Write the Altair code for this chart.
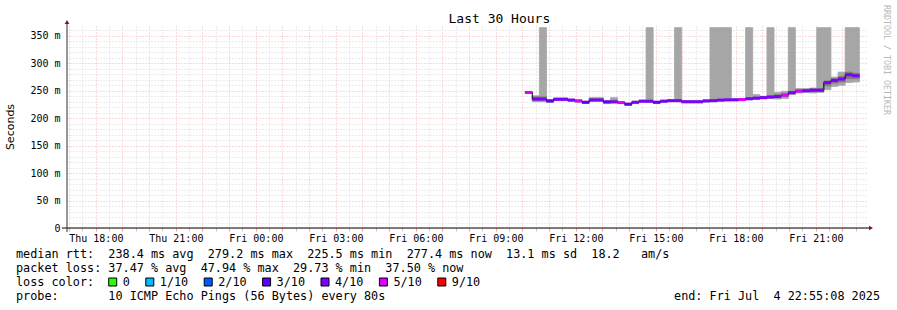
import json
import altair as alt
import pandas as pd

# ---------------- data ----------------
# hours since Thu 00:00; chart covers Thu 16:55:08 .. Fri 22:55:08
x_start_h = 16.919
x_end_h = 46.919
first_step_h = 34.10          # Fri 10:06
step_h = 16 / 60.0            # consolidated RRD step (16 min)

median_ms = [247.0, 235.0, 235.0, 231.5, 234.5, 234.5, 233.0, 231.5, 229.0, 233.0,
             233.0, 229.7, 229.7, 228.5, 225.5, 229.0, 231.0, 231.0, 229.0, 231.0,
             232.0, 232.0, 230.0, 230.0, 230.0, 231.5, 232.0, 233.0, 233.5, 233.5,
             234.0, 235.5, 236.5, 237.5, 238.5, 239.5, 242.0, 246.5, 249.5, 250.0,
             251.0, 251.0, 265.0, 269.0, 271.5, 279.2, 277.4]

loss_bin = ["5/10", "4/10", "4/10", "3/10", "4/10", "4/10", "4/10", "5/10", "3/10", "4/10",
            "4/10", "3/10", "4/10", "5/10", "3/10", "4/10", "4/10", "4/10", "3/10", "4/10",
            "4/10", "4/10", "4/10", "4/10", "4/10", "4/10", "4/10", "4/10", "4/10", "4/10",
            "5/10", "4/10", "4/10", "4/10", "4/10", "4/10", "5/10", "4/10", "5/10", "4/10",
            "4/10", "4/10", "4/10", "4/10", "4/10", "4/10", "4/10"]

smoke_lo = [245.0, 230.0, 230.0, 228.5, 232.0, 232.0, 231.0, 229.0, 227.0, 231.0,
            231.0, 226.5, 228.0, 227.0, 223.5, 227.0, 229.0, 229.0, 227.0, 229.0,
            230.0, 230.0, 228.0, 228.0, 228.0, 229.5, 230.0, 231.0, 231.5, 232.0,
            232.0, 233.5, 234.5, 235.5, 236.0, 235.0, 236.0, 243.0, 246.0, 247.0,
            246.0, 247.0, 252.0, 258.0, 260.0, 265.0, 266.0]
smoke_hi = [248.5, 241.0, 365.0, 234.0, 237.0, 237.0, 235.0, 233.5, 231.0, 237.5,
            237.5, 232.0, 237.5, 230.5, 227.5, 231.0, 233.0, 365.0, 231.0, 233.0,
            234.0, 365.0, 232.0, 232.0, 232.0, 233.5, 365.0, 365.0, 365.0, 236.0,
            236.0, 365.0, 243.0, 240.0, 365.0, 247.0, 249.0, 365.0, 254.0, 254.0,
            255.0, 365.0, 365.0, 275.0, 284.0, 365.0, 365.0]
inner_lo = [245.5, 232.0, 232.0, 230.0, 233.0, 233.0, 232.0, 230.0, 228.0, 232.0,
            232.0, 228.0, 229.0, 227.5, 224.5, 228.0, 230.0, 230.0, 228.0, 230.0,
            231.0, 231.0, 229.0, 229.0, 229.0, 230.5, 231.0, 232.0, 232.5, 232.5,
            233.0, 234.5, 235.5, 236.5, 237.0, 237.5, 239.5, 244.5, 247.5, 248.0,
            248.5, 248.5, 259.0, 264.0, 266.0, 272.0, 272.0]
inner_hi = [248.0, 239.0, 239.0, 233.0, 236.0, 236.0, 234.0, 233.0, 230.0, 236.0,
            236.0, 231.0, 233.0, 229.5, 226.5, 230.0, 232.0, 232.0, 230.0, 232.0,
            233.0, 233.0, 231.0, 231.0, 231.0, 232.5, 233.0, 234.0, 234.5, 234.5,
            235.0, 237.0, 238.5, 239.0, 241.0, 243.0, 245.0, 249.0, 252.0, 252.0,
            253.5, 254.0, 268.0, 272.0, 276.0, 284.0, 282.0]

loss_labels = ["0", "1/10", "2/10", "3/10", "4/10", "5/10", "9/10"]
loss_colors = ["#26ff00", "#00b8ff", "#0059ff", "#5e00ff", "#7e00ff", "#dd00ff", "#ff0000"]

x_tick_labels = ["Thu 18:00", "Thu 21:00", "Fri 00:00", "Fri 03:00", "Fri 06:00",
                 "Fri 09:00", "Fri 12:00", "Fri 15:00", "Fri 18:00", "Fri 21:00"]

title_text = "Last 30 Hours"
y_title = "Seconds"
legend_rtt = "median rtt:  238.4 ms avg  279.2 ms max  225.5 ms min  277.4 ms now  13.1 ms sd  18.2   am/s"
legend_loss = "packet loss: 37.47 % avg  47.94 % max  29.73 % min  37.50 % now"
legend_color = "loss color:"
legend_probe = "probe:       10 ICMP Echo Pings (56 Bytes) every 80s"
legend_end = "end: Fri Jul  4 22:55:08 2025"
watermark = "RRDTOOL / TOBI OETIKER"

# ---------------- tables ----------------
n = len(median_ms)
t0 = [first_step_h + i * step_h for i in range(n)]
t1 = [t + step_h for t in t0]
steps = pd.DataFrame({"t0": t0, "t1": t1, "median": median_ms, "loss": loss_bin,
                      "lo": smoke_lo, "hi": smoke_hi, "ilo": inner_lo, "ihi": inner_hi})
line_df = pd.DataFrame({"t": t0 + [t1[-1]], "median": median_ms + [median_ms[-1]]})

W, H = 800, 202
MONO = "DejaVu Sans Mono"
NB = "\u00a0"

def nb(s):
    return s.replace(" ", NB)

x_vals = [17 + 0.5 * k for k in range(60)]
y_vals = [10 * k for k in range(37)]

x_axis = alt.Axis(
    values=x_vals, grid=True, domain=False, ticks=True, tickSize=3,
    tickColor={"condition": {"test": "datum.value % 1 == 0", "value": "#f2a0a0"}, "value": "#c8c8c8"},
    gridColor={"condition": {"test": "datum.value % 1 == 0", "value": "#f7b4b4"}, "value": "#d8d8d8"},
    gridDash={"condition": {"test": "datum.value % 1 == 0", "value": [1, 2]}, "value": [1, 2]},
    gridWidth=1,
    labelExpr="datum.value % 3 == 0 ? " + json.dumps(x_tick_labels) + "[round((datum.value - 18) / 3)] : ''",
    labelFont=MONO, labelFontSize=10, labelColor="#000000", labelBaseline="top",
    labelPadding=2, labelOverlap=False, labelFlush=False, labelBound=False, title=None,
)
y_axis = alt.Axis(
    values=y_vals, grid=True, domain=False, ticks=False,
    gridColor={"condition": {"test": "datum.value % 50 == 0", "value": "#f7b4b4"}, "value": "#d8d8d8"},
    gridDash={"condition": {"test": "datum.value % 50 == 0", "value": [1, 2]}, "value": [1, 2]},
    gridWidth=1,
    labelExpr="datum.value % 50 == 0 ? (datum.value == 0 ? '0" + NB + NB + "' : datum.value + '" + NB + "m') : ''",
    labelFont=MONO, labelFontSize=10, labelColor="#000000", labelPadding=7,
    labelOverlap=False, labelFlush=False, labelBound=False, title=None,
)
xs = alt.Scale(domain=[x_start_h, x_end_h], nice=False, zero=False)
ys = alt.Scale(domain=[0, 368], nice=False)

def X(f):
    return alt.X(f"{f}:Q", scale=xs, axis=x_axis)

def Y(f):
    return alt.Y(f"{f}:Q", scale=ys, axis=y_axis)

base = alt.Chart(steps)
outer = base.mark_rect(color="#a6a6a6", stroke="#a6a6a6", strokeWidth=0.8).encode(
    x=X("t0"), x2="t1", y=Y("lo"), y2="hi")
inner = base.mark_rect(color="#7a7a7a", stroke="#7a7a7a", strokeWidth=0.6).encode(
    x=X("t0"), x2="t1", y=Y("ilo"), y2="ihi")
blk = alt.Chart(line_df).mark_line(interpolate="step-after", color="#000000", strokeWidth=1).encode(
    x=alt.X("t:Q", scale=xs, axis=x_axis), y=alt.Y("median:Q", scale=ys, axis=y_axis))
segs = base.mark_rule(strokeWidth=3).encode(
    x=X("t0"), x2="t1", y=Y("median"),
    color=alt.Color("loss:N", scale=alt.Scale(domain=loss_labels, range=loss_colors), legend=None))

one = pd.DataFrame({"k": [0]})
deco = []
deco.append(alt.Chart(one).mark_rule(color="#000000", strokeWidth=1).encode(
    x=alt.value(-5), x2=alt.value(803), y=alt.value(H)))
deco.append(alt.Chart(one).mark_rule(color="#333333", strokeWidth=1).encode(
    x=alt.value(0), y=alt.value(-3), y2=alt.value(H + 4)))
deco.append(alt.Chart(one).mark_point(shape="triangle-right", filled=True, color="#8b1010", size=22, opacity=1).encode(
    x=alt.value(804), y=alt.value(H)))
deco.append(alt.Chart(one).mark_point(shape="triangle-up", filled=True, color="#8b1010", size=22, opacity=1).encode(
    x=alt.value(0), y=alt.value(-4)))

def txt(s, x, y, size, font=MONO, align="left", angle=0, color="#000000"):
    return alt.Chart(one).mark_text(text=nb(s), font=font, fontSize=size, align=align,
                                    baseline="middle", angle=angle, color=color).encode(
        x=alt.value(x), y=alt.value(y))

deco.append(txt(title_text, 381.5, -7, 13))
deco.append(txt(y_title, -56, 101, 11, font="DejaVu Sans", align="center", angle=270))
deco.append(txt(watermark, 819, 34, 8.3, align="center", angle=90, color="#b8b8b8"))

LX = -51
LSZ = 11.8
deco.append(txt(legend_rtt, LX, 228, LSZ))
deco.append(txt(legend_loss, LX, 242, LSZ))
deco.append(txt(legend_color, LX, 256, LSZ))
deco.append(txt(legend_probe, LX, 270, LSZ))
deco.append(txt(legend_end, 813, 270, LSZ, align="right"))

# loss-colour legend boxes
left = 108.7 - 67
for lab, col in zip(loss_labels, loss_colors):
    deco.append(alt.Chart(one).mark_rect(fill=col, stroke="#000000", strokeWidth=1).encode(
        x=alt.value(left), x2=alt.value(left + 8), y=alt.value(252), y2=alt.value(260)))
    deco.append(txt(lab, left + 14, 256, LSZ))
    left += 30 + 7.1 * len(lab)

chart = alt.layer(outer, inner, blk, segs, *deco).properties(
    width=W, height=H,
    autosize=alt.AutoSizeParams(type="none"),
    padding={"left": 67, "top": 26, "right": 30, "bottom": 82},
    background="#ffffff",
).configure_view(stroke=None)

chart.save("out.html", embed_options={"renderer": "svg", "actions": False})
